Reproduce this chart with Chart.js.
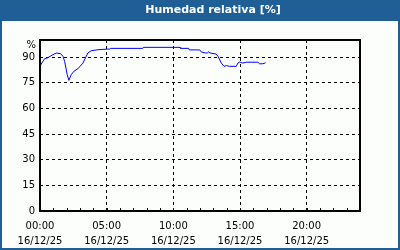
<!DOCTYPE html>
<html><head><meta charset="utf-8">
<script src="https://cdn.jsdelivr.net/npm/chart.js@4/dist/chart.umd.min.js"></script>
<style>html,body{margin:0;padding:0;background:#1f5f96;} #wrap{width:400px;height:250px;position:relative;} canvas{display:block}</style>
</head><body><div id="wrap"><canvas id="c" width="400" height="250"></canvas></div>
<script>
const chartTitle = 'Humedad relativa [%]';
const yUnit = '%';
const hours = [0.03, 0.35, 0.55, 0.97, 1.22, 1.55, 1.72, 1.85, 2.04, 2.17, 2.34, 2.54, 2.84, 3.22, 3.59, 3.84, 4.34, 5.09, 5.24, 5.3, 7.7, 7.75, 10.5, 10.55, 11.15, 11.2, 11.98, 12.1, 12.4, 12.55, 12.65, 12.75, 13.2, 13.35, 13.6, 13.8, 13.97, 14.22, 14.72, 14.84, 14.97, 15.2, 15.47, 16.34, 16.47, 16.72, 16.92];
const humidity = [85.2, 89.1, 89.5, 91.4, 92.4, 92.0, 90.5, 87.5, 79.7, 76.4, 79.7, 81.7, 83.2, 86.5, 92.4, 93.7, 94.3, 94.7, 94.7, 95.1, 95.1, 95.7, 95.7, 95.1, 95.1, 94.2, 94.2, 93.0, 92.4, 92.4, 93.0, 92.4, 91.8, 90.5, 86.5, 84.6, 85.0, 84.6, 84.6, 86.5, 87.1, 86.5, 87.0, 87.0, 86.1, 86.1, 86.7];
const xTickHours = [0, 5, 10, 15, 20];
const xTimeLabels = ['00:00', '05:00', '10:00', '15:00', '20:00'];
const xDateLabel = '16/12/25';
const yTickValues = [0, 15, 30, 45, 60, 75, 90];

const FONT = "'DejaVu Sans', sans-serif";

const framePlugin = {
  id: 'frame',
  beforeDraw(chart) {
    const ctx = chart.ctx;
    ctx.save();
    ctx.fillStyle = '#1f5f96';
    ctx.fillRect(0, 0, 400, 250);
    ctx.fillStyle = '#fcfefc';
    ctx.fillRect(2, 21, 396, 227);
    ctx.fillStyle = '#ffffff';
    ctx.font = 'bold 11px ' + FONT;
    ctx.textAlign = 'center';
    ctx.textBaseline = 'middle';
    ctx.fillText(chartTitle, 213, 10.5);
    ctx.restore();
  },
  afterDraw(chart) {
    const ctx = chart.ctx, a = chart.chartArea, x = chart.scales.x;
    ctx.save();
    ctx.strokeStyle = '#000';
    ctx.lineWidth = 2;
    ctx.strokeRect(a.left, a.top, a.right - a.left, a.bottom - a.top);
    ctx.lineWidth = 1;
    for (let h = 0; h <= 24; h++) {
      const px = Math.round(x.getPixelForValue(h)) + 0.5;
      ctx.beginPath();
      ctx.moveTo(px, a.bottom);
      ctx.lineTo(px, a.bottom - 3);
      ctx.stroke();
    }
    ctx.fillStyle = '#000';
    ctx.font = '10px ' + FONT;
    ctx.textAlign = 'right';
    ctx.textBaseline = 'middle';
    ctx.fillText(yUnit, a.left - 4, a.top + 5);
    ctx.restore();
  }
};

new Chart(document.getElementById('c'), {
  type: 'line',
  data: {
    datasets: [{
      data: hours.map((h, i) => ({ x: h, y: humidity[i] })),
      borderColor: '#0000ff',
      borderWidth: 1,
      pointRadius: 0,
      tension: 0,
      fill: false
    }]
  },
  options: {
    responsive: false,
    animation: false,
    events: [],
    layout: { padding: { top: 40, right: 40, left: 0, bottom: 0 } },
    plugins: { legend: { display: false }, tooltip: { enabled: false }, title: { display: false } },
    scales: {
      x: {
        type: 'linear', min: 0, max: 24,
        afterFit(s) { s.height = 39; },
        ticks: {
          stepSize: 5, autoSkip: false, maxRotation: 0, padding: 8, color: '#000',
          font: { family: FONT, size: 10, lineHeight: 1.5 },
          callback(v) { const i = xTickHours.indexOf(v); return i < 0 ? null : [xTimeLabels[i], xDateLabel]; }
        },
        grid: { color: '#000', lineWidth: 1, drawTicks: false },
        border: { display: false, dash: [3, 3] }
      },
      y: {
        min: 0, max: 100,
        afterFit(s) { s.width = 40; },
        ticks: {
          stepSize: 15, padding: 5, color: '#000',
          font: { family: FONT, size: 10 },
          callback(v) { return yTickValues.includes(v) ? String(v) : null; }
        },
        grid: { color: '#000', lineWidth: 1, drawTicks: false },
        border: { display: false, dash: [3, 3] }
      }
    }
  },
  plugins: [framePlugin]
});
</script></body></html>
